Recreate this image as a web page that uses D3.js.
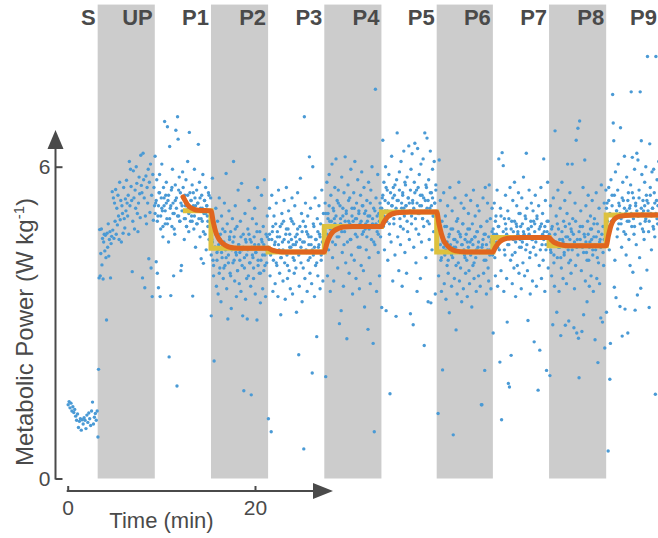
<!DOCTYPE html>
<html>
<head>
<meta charset="utf-8">
<script src="https://cdn.jsdelivr.net/npm/d3@7"></script>
<style>
  html, body { margin: 0; padding: 0; background: #fff; }
  svg { display: block; }
  text { font-family: "Liberation Sans", Arial, Helvetica, sans-serif; }
</style>
</head>
<body>
<svg id="chart" width="658" height="538"></svg>
<script>
// ---------------- DATA ----------------
// Period names and boundaries (minutes)
const periodNames = ["S", "UP", "P1", "P2", "P3", "P4", "P5", "P6", "P7", "P8", "P9"];
const periodBounds = [0, 3.2, 9.3, 15.3, 21.4, 27.4, 33.5, 39.4, 45.4, 51.4, 57.5, 63.5];
const shadedPeriods = ["UP", "P2", "P4", "P6", "P8"];

// Breath-by-breath metabolic power (W/kg), in time order within each period
const powerS = [1.42,1.48,1.36,1.45,1.30,1.38,1.27,1.33,1.20,1.12,1.24,0.98,1.10,1.15,0.93,1.13,1.05,1.17,1.12,0.96,1.22,1.08,1.26,1.15,1.02,1.30,1.47,1.05,1.18,1.25,1.12,1.30];
const powerUP = [0.80,2.10,3.86,4.79,3.90,4.33,4.80,4.11,4.62,3.84,4.55,4.70,4.38,4.68,4.25,3.05,4.72,4.45,4.90,4.28,4.60,4.75,3.86,4.52,4.66,
  5.52,4.78,5.40,4.62,5.30,4.95,5.56,4.70,5.20,4.88,5.45,5.05,4.60,5.70,4.98,5.35,4.55,5.25,5.10,4.72,5.60,5.00,4.82,5.38,5.15,
  5.74,5.30,5.05,5.45,4.70,6.10,5.25,5.95,5.62,5.35,3.98,4.95,5.92,5.40,4.80,5.55,5.20,6.00,5.68,5.10,4.75,5.30,5.80,5.48,5.02,
  6.22,5.64,5.50,3.86,6.26,5.75,5.40,3.67,5.05,5.82,4.90,5.60,5.30,5.95,4.23,5.70,5.12,6.05,4.05,5.45,3.50,5.85,4.97,5.60,5.25];
const powerP1 = [6.20,5.30,4.17,5.75,3.95,5.05,3.67,5.50,5.85,3.50,4.80,5.40,6.05,5.15,4.65,5.60,5.25,6.87,4.90,5.45,5.70,5.00,6.77,5.35,4.55,
  2.34,6.39,5.20,3.52,5.55,4.85,5.95,5.30,3.90,5.10,4.70,5.65,6.70,5.40,1.78,6.96,6.53,5.05,5.80,4.95,5.50,4.00,4.10,5.25,5.90,
  5.60,5.15,4.60,5.45,5.00,5.75,4.85,5.30,6.10,5.20,4.75,6.66,5.50,4.95,5.35,5.05,5.65,3.51,5.25,4.80,5.95,5.40,4.45,5.15,5.55,
  4.90,5.30,6.43,5.00,5.70,4.65,5.20,4.23,5.45,4.95,5.85,4.14,5.10,5.35,4.70,5.60,4.40,5.25,5.05,4.85,5.50,4.60,5.15,4.95,5.40];
const powerP2 = [3.13,4.60,5.78,4.20,3.90,2.26,4.85,4.45,5.20,3.70,4.35,4.95,3.55,4.50,5.40,4.05,4.70,3.40,5.05,4.25,4.80,3.85,4.55,5.30,4.10,
  4.40,5.87,3.65,4.90,3.07,4.30,5.15,4.60,3.95,4.75,3.27,4.45,5.00,4.15,6.10,4.65,3.80,5.25,4.35,3.50,4.85,4.00,5.55,4.50,3.75,
  4.20,4.95,3.60,5.68,4.40,3.13,4.70,1.69,4.05,5.10,3.45,4.55,4.30,3.07,4.80,3.90,5.35,4.15,4.60,3.70,1.61,4.45,5.00,4.25,3.85,
  4.65,5.20,3.55,4.35,4.90,3.05,5.60,4.10,4.50,3.95,4.75,3.38,4.20,5.45,4.55,3.65,4.85,4.00,5.75,4.30,3.50,4.70,4.15,5.05,4.40];
const powerP3 = [1.15,4.60,5.20,3.90,4.35,0.90,5.45,4.75,3.60,4.20,5.05,4.50,3.75,4.90,5.30,4.10,4.65,3.50,5.55,4.40,3.95,4.85,3.15,4.25,5.10,
  4.55,3.80,4.95,5.35,4.15,3.45,4.70,5.60,4.30,3.85,4.80,5.15,4.00,4.45,3.65,5.00,4.60,5.40,3.55,4.25,4.90,3.95,5.25,4.50,4.05,
  3.20,4.70,5.50,4.35,2.38,3.70,4.85,5.78,4.15,5.10,3.40,4.55,4.95,0.57,6.96,3.85,5.30,4.40,4.75,3.60,5.05,4.20,4.65,6.19,3.95,
  5.20,4.50,3.75,2.03,6.00,4.30,4.85,3.50,5.40,4.10,4.60,2.73,5.00,3.90,4.45,5.25,4.70,3.65,4.90,4.20,5.55,4.35,3.80,5.10,4.55];
const powerP4 = [4.60,5.30,1.96,4.85,5.70,3.90,5.10,4.40,5.85,4.95,3.60,5.45,4.70,6.05,4.25,5.20,3.80,5.00,5.60,4.50,6.15,4.80,5.35,4.05,5.55,
  4.65,2.98,5.25,4.90,3.23,5.80,4.35,5.05,3.70,5.50,4.75,6.19,4.15,5.15,2.69,4.55,5.65,4.95,3.95,5.40,4.60,5.95,4.30,5.20,3.55,
  4.85,5.50,4.20,6.10,5.00,3.85,5.30,4.65,5.75,4.45,5.10,3.65,4.90,5.45,4.10,5.90,4.70,5.25,4.00,5.60,3.30,4.80,5.15,4.40,5.35,
  4.95,2.87,5.70,4.25,5.05,3.75,5.55,4.60,6.00,4.90,2.60,5.20,0.90,4.50,7.49,5.40,3.60,4.75,5.85,4.35,5.10,3.90,5.30,4.65,5.00];
const powerP5 = [3.29,5.40,6.51,4.85,5.70,4.40,5.15,6.00,3.23,4.95,5.55,4.20,5.30,5.85,4.70,1.63,5.05,4.55,6.20,5.25,3.80,5.60,4.90,5.45,4.30,
  5.10,3.12,5.75,6.65,4.65,5.35,4.00,5.90,5.00,4.50,6.10,5.20,3.70,5.50,4.80,6.30,5.05,4.35,5.65,5.25,3.95,5.80,4.75,5.40,6.40,
  4.60,5.15,3.17,5.95,4.90,6.25,5.30,2.96,4.45,5.70,6.45,5.00,4.15,5.55,3.60,6.35,5.10,4.70,5.85,5.25,3.85,6.05,4.55,5.45,5.00,
  6.15,4.85,2.56,6.65,5.35,4.25,5.60,6.55,4.95,3.40,5.75,4.60,5.20,6.30,3.38,5.50,4.40,5.95,5.05,4.75,6.10,5.30,3.55,5.65,4.90];
const powerP6 = [5.10,4.40,1.25,3.90,6.13,4.75,5.35,4.20,3.60,4.95,2.09,4.55,5.50,3.75,4.30,5.05,3.45,4.85,4.10,5.25,3.95,4.65,3.19,5.60,4.35,
  4.80,3.70,5.15,4.25,0.84,4.60,3.85,5.40,4.45,2.86,4.95,3.55,5.00,4.15,5.70,3.80,4.70,4.05,5.30,3.40,4.50,4.90,3.65,5.20,4.30,
  4.60,3.95,5.45,4.20,3.50,4.80,5.10,4.00,3.75,4.55,5.35,4.35,3.30,4.90,4.10,5.55,3.85,4.65,5.05,4.25,3.60,4.75,5.25,4.45,3.90,
  5.15,4.35,3.70,4.85,1.42,1.42,4.50,5.40,3.95,4.70,2.08,5.60,4.20,3.55,4.95,5.30,4.05,3.80,5.65,4.40,5.00,3.65,4.60,5.20,4.30];
const powerP7 = [2.80,4.70,5.30,4.25,3.90,5.05,4.55,5.55,3.70,4.85,6.15,4.40,2.24,5.20,4.00,1.13,6.27,4.65,6.02,3.60,5.00,4.30,5.45,4.80,3.85,
  3.01,5.15,1.83,4.50,1.76,5.60,4.20,2.37,4.95,3.75,5.35,4.60,4.05,5.70,4.35,3.50,4.90,5.25,4.10,4.75,5.50,3.95,4.45,5.10,4.85,
  3.65,5.40,4.55,4.15,5.80,4.70,3.90,5.05,4.40,6.26,5.20,4.00,3.04,4.80,5.55,4.25,3.55,4.95,5.30,4.60,3.80,5.15,4.45,2.63,4.90,
  5.45,4.30,3.70,5.00,4.65,1.70,5.25,4.10,2.47,4.85,5.60,3.85,4.50,5.10,4.20,6.15,4.75,3.60,5.35,4.40,2.08,4.95,5.70,4.05,4.60];
const powerP8 = [4.70,1.98,5.25,4.35,3.90,4.85,2.96,5.40,4.15,3.70,6.69,4.55,5.05,3.20,4.25,5.55,4.80,3.60,4.45,5.20,2.75,4.05,5.70,4.60,3.85,
  4.95,4.30,5.35,2.95,4.65,3.75,5.10,6.05,4.40,3.03,4.90,5.50,4.20,3.95,4.75,6.05,5.00,4.50,2.90,3.65,5.30,4.10,6.51,2.80,4.60,
  6.74,2.70,1.94,6.88,4.85,5.15,4.00,2.83,4.45,5.60,3.15,4.70,6.13,3.80,5.25,4.35,3.40,4.95,5.45,4.20,3.70,4.55,5.05,3.90,4.80,
  5.35,4.30,3.60,4.65,5.00,2.67,4.40,5.50,3.85,4.90,2.23,4.15,5.20,3.75,4.60,3.09,5.65,4.50,3.01,4.85,4.10,5.30,2.51,4.70,5.55];
const powerP9 = [3.20,5.30,4.85,0.53,5.60,4.40,1.91,2.60,5.75,4.95,5.45,7.39,6.84,6.50,3.68,4.20,5.90,3.48,5.15,4.65,5.55,6.05,4.90,5.25,3.31,
  6.75,5.00,4.45,2.74,5.70,5.35,4.75,6.20,3.26,5.10,4.30,5.80,4.95,2.80,5.50,4.60,5.20,4.10,5.65,7.44,4.85,6.18,3.97,5.40,4.70,
  5.95,3.24,5.25,4.50,6.26,3.53,6.13,5.05,5.55,4.25,7.44,3.66,6.50,5.85,4.80,5.35,5.15,4.60,5.70,4.95,6.00,5.45,4.01,8.12,5.30,
  4.75,3.29,6.44,5.60,5.10,4.40,5.90,5.20,4.85,5.95,5.50,4.65,1.62,8.12,5.35,5.75,4.90,5.25,6.10,5.05,4.55,5.80,5.40,5.15,5.00];
const powerByPeriod = [powerS, powerUP, powerP1, powerP2, powerP3, powerP4, powerP5, powerP6, powerP7, powerP8, powerP9];

// Further breaths in the same periods (interleaved in time with the ones above)
const extraP1 = [5.10,5.35,4.95,5.25,5.50,5.05,5.20,4.85,5.40,5.15,5.30,4.90,5.45,5.00,5.25,5.60,5.10,4.80,5.35,5.20,5.05,5.55,4.95,5.30,5.15,5.40,5.00,5.25,4.85,5.45,5.10,5.20,5.35,4.95,5.50,5.05,5.25,4.90,5.30,5.15,5.40,5.00,5.20,4.75,5.35,5.10,5.25,4.95,5.45,5.05];
const extraP2 = [4.30,4.55,4.10,4.45,4.70,4.20,4.40,3.95,4.60,4.35,4.50,4.05,4.75,4.25,4.45,4.15,4.65,3.90,4.40,4.55,4.20,4.80,4.30,4.00,4.50,4.35,4.65,4.10,4.45,4.25,4.60,3.85,4.40,4.70,4.15,4.55,4.30,4.05,4.50,4.35,4.75,4.20,4.45,3.95,4.60,4.30,4.50,4.10,4.40,4.65];
const extraP3 = [4.45,4.70,4.30,4.60,4.85,4.40,4.55,4.15,4.75,4.50,4.65,4.25,4.90,4.40,4.60,4.35,4.80,4.10,4.55,4.70,4.45,4.95,4.50,4.20,4.65,4.55,4.80,4.30,4.60,4.45,4.75,4.05,4.55,4.85,4.35,4.70,4.50,4.25,4.65,4.40,4.90,4.45,4.60,4.15,4.75,4.50,4.65,4.30,4.55,4.80];
const extraP4 = [4.85,5.10,4.70,5.00,5.25,4.80,4.95,4.55,5.15,4.90,5.05,4.65,5.30,4.85,5.00,4.75,5.20,4.50,4.95,5.10,4.85,5.35,4.90,4.60,5.05,4.95,5.20,4.70,5.00,4.85,5.15,4.45,4.95,5.25,4.75,5.10,4.90,4.65,5.05,4.80,5.30,4.85,5.00,4.55,5.15,4.90,5.05,4.70,4.95,5.20];
const extraP5 = [5.20,5.45,5.05,5.35,5.60,5.15,5.30,4.90,5.50,5.25,5.40,5.00,5.65,5.20,5.35,5.10,5.55,4.85,5.30,5.45,5.20,5.70,5.25,4.95,5.40,5.30,5.55,5.05,5.35,5.20,5.50,4.80,5.30,5.60,5.10,5.45,5.25,5.00,5.40,5.15,5.65,5.20,5.35,4.90,5.50,5.25,5.40,5.05,5.30,5.55];
const extraP6 = [4.60,4.35,4.75,4.50,4.25,4.65,4.45,4.85,4.40,4.55,4.20,4.70,4.50,4.30,4.80,4.45,4.60,4.10,4.55,4.75,4.35,4.65,4.50,4.90,4.40,4.25,4.70,4.55,4.45,4.80,4.30,4.60,4.50,4.15,4.65,4.40,4.75,4.55,4.35,4.85,4.45,4.60,4.20,4.70,4.50,4.40,4.65,4.30,4.55,4.75];
const extraP7 = [4.80,4.55,4.95,4.70,4.45,4.85,4.65,5.05,4.60,4.75,4.40,4.90,4.70,4.50,5.00,4.65,4.80,4.30,4.75,4.95,4.55,4.85,4.70,5.10,4.60,4.45,4.90,4.75,4.65,5.00,4.50,4.80,4.70,4.35,4.85,4.60,4.95,4.75,4.55,5.05,4.65,4.80,4.40,4.90,4.70,4.60,4.85,4.50,4.75,4.95];
const extraP8 = [4.65,4.40,4.80,4.55,4.30,4.70,4.50,4.90,4.45,4.60,4.25,4.75,4.55,4.35,4.85,4.50,4.65,4.15,4.60,4.80,4.40,4.70,4.55,4.95,4.45,4.30,4.75,4.60,4.50,4.85,4.35,4.65,4.55,4.20,4.70,4.45,4.80,4.60,4.40,4.90,4.50,4.65,4.25,4.75,4.55,4.45,4.70,4.35,4.60,4.80];
const extraP9 = [5.20,4.95,5.35,5.10,4.85,5.25,5.05,5.45,5.00,5.15,4.80,5.30,5.10,4.90,5.40,5.05,5.20,4.70,5.15,5.35,4.95,5.25,5.10,5.50,5.00,4.85,5.30,5.15,5.05,5.40,4.90,5.20,5.10,4.75,5.25,5.00,5.35,5.15,4.95,5.45,5.05,5.20,4.80,5.30,5.10,5.00,5.25,4.90,5.15,5.35];
const extraByPeriod = [[], [], extraP1, extraP2, extraP3, extraP4, extraP5, extraP6, extraP7, extraP8, extraP9];

// Fitted first-order response (orange)
const fitT = [12.31,12.5,12.75,13.0,13.5,14.0,
  15.3,15.55,15.8,16.05,16.3,16.8,17.3,18.3,
  21.4,21.65,21.9,22.15,22.4,22.9,23.4,24.4,
  27.4,27.65,27.9,28.15,28.4,28.9,29.4,30.4,
  33.5,33.75,34.0,34.25,34.5,35.0,35.5,36.5,
  39.4,39.65,39.9,40.15,40.4,40.9,41.4,42.4,
  45.4,45.65,45.9,46.15,46.4,46.9,47.4,48.4,
  51.4,51.65,51.9,52.15,52.4,52.9,53.4,54.4,
  57.5,57.75,58.0,58.25,58.5,59.0,59.5,60.5,
  63.5];
const fitV = [5.42,5.36,5.28,5.23,5.18,5.16,
  5.15,4.93,4.75,4.64,4.57,4.49,4.45,4.43,
  4.43,4.41,4.39,4.38,4.37,4.36,4.36,4.36,
  4.36,4.51,4.63,4.71,4.76,4.81,4.84,4.85,
  4.85,4.93,5.00,5.05,5.08,5.11,5.12,5.13,
  5.13,4.90,4.71,4.58,4.51,4.42,4.38,4.36,
  4.36,4.44,4.51,4.56,4.59,4.62,4.63,4.64,
  4.64,4.59,4.55,4.53,4.51,4.49,4.48,4.48,
  4.48,4.68,4.86,4.96,5.01,5.05,5.06,5.07,
  5.07];

// Steady-state levels (yellow step)
const stepT = [12.31, 15.3, 21.4, 27.4, 33.5, 39.4, 45.4, 51.4, 57.5, 63.5];
const stepV = [5.15, 4.43, 4.36, 4.85, 5.13, 4.36, 4.64, 4.48, 5.07, 5.07];

const xTicks = [0, 20];
const yTicks = [0, 6];
const xLabel = "Time (min)";
const yLabelMain = "Metabolic Power (W kg";
const yLabelSup = "-1";

// ---------------- DRAW ----------------
const svg = d3.select("#chart");
const ink = "#4a4a4a";

const x = d3.scaleLinear().domain([0, 20]).range([67.7, 255]);
const y = d3.scaleLinear().domain([0, 6]).range([478.5, 166.7]);

// shaded bands
const bandTop = y(9.12);
svg.append("g").selectAll("rect")
  .data(periodNames.map((n, i) => ({ n, t0: periodBounds[i], t1: periodBounds[i + 1] }))
    .filter(d => shadedPeriods.includes(d.n)))
  .join("rect")
  .attr("x", d => x(d.t0))
  .attr("width", d => x(d.t1) - x(d.t0))
  .attr("y", bandTop)
  .attr("height", y(0) - bandTop)
  .attr("fill", "#cccccc");

// scatter points
const pts = [];
function addSeries(list, offset) {
  list.forEach((arr, p) => {
    const t0 = periodBounds[p], t1 = periodBounds[p + 1];
    const dt = (t1 - t0) / (arr.length || 1);
    arr.forEach((v, i) => pts.push({ t: t0 + (i + offset) * dt, v }));
  });
}
addSeries(powerByPeriod, 0.5);
addSeries(extraByPeriod, 0.25);
svg.append("g").selectAll("circle")
  .data(pts.filter(d => x(d.t) < 660))
  .join("circle")
  .attr("cx", d => x(d.t))
  .attr("cy", d => y(d.v))
  .attr("r", 1.7)
  .attr("fill", "#4a9ad5");

// yellow step
const stepLine = d3.line().x(d => x(d[0])).y(d => y(d[1])).curve(d3.curveStepAfter);
svg.append("path")
  .attr("d", stepLine(stepT.map((t, i) => [t, stepV[i]])))
  .attr("fill", "none")
  .attr("stroke", "#ddc13e")
  .attr("stroke-width", 5);

// orange fitted curve
const fitLine = d3.line().x(d => x(d[0])).y(d => y(d[1])).curve(d3.curveMonotoneX);
svg.append("path")
  .attr("d", fitLine(fitT.map((t, i) => [t, fitV[i]])))
  .attr("fill", "none")
  .attr("stroke", "#e0651f")
  .attr("stroke-width", 5)
  .attr("stroke-linecap", "round")
  .attr("stroke-linejoin", "round");

// y axis
const axX = 55.5;
const yAxis = svg.append("g").attr("transform", `translate(${axX},0)`)
  .call(d3.axisLeft(y).tickValues(yTicks).tickSize(-7).tickPadding(5).tickFormat(d3.format("d")));
yAxis.select(".domain").remove();
yAxis.selectAll(".tick line").attr("stroke", ink).attr("stroke-width", 2);
yAxis.selectAll(".tick text").attr("fill", ink).attr("font-size", 21)
  .attr("font-family", "'Liberation Sans', Arial, sans-serif");
svg.append("line").attr("x1", axX).attr("x2", axX).attr("y1", y(0) + 1).attr("y2", 146)
  .attr("stroke", ink).attr("stroke-width", 2);
svg.append("path").attr("d", `M${axX},130 L${axX - 8},149 L${axX + 8},149 Z`).attr("fill", ink);

// x axis
const axY = 491;
const xAxis = svg.append("g").attr("transform", `translate(0,${axY})`)
  .call(d3.axisBottom(x).tickValues(xTicks).tickSize(-5).tickPadding(9).tickFormat(d3.format("d")));
xAxis.select(".domain").remove();
xAxis.selectAll(".tick line").attr("stroke", ink).attr("stroke-width", 2);
xAxis.selectAll(".tick text").attr("fill", ink).attr("font-size", 21)
  .attr("font-family", "'Liberation Sans', Arial, sans-serif");
svg.append("line").attr("x1", x(0) - 1).attr("x2", 316).attr("y1", axY).attr("y2", axY)
  .attr("stroke", ink).attr("stroke-width", 2);
svg.append("path").attr("d", `M333,${axY} L313,${axY - 8} L313,${axY + 8} Z`).attr("fill", ink);

// axis labels
svg.append("text").attr("x", 161.5).attr("y", 528).attr("text-anchor", "middle")
  .attr("font-size", 22).attr("fill", ink).text(xLabel);
const yl = svg.append("text").attr("transform", "translate(33,332) rotate(-90)")
  .attr("text-anchor", "middle").attr("font-size", 24).attr("fill", ink);
yl.append("tspan").text(yLabelMain);
yl.append("tspan").attr("dy", -9).attr("font-size", 15).text(yLabelSup);
yl.append("tspan").attr("dy", 9).text(")");

// period labels
svg.append("g").selectAll("text")
  .data(periodNames.map((n, i) => ({ n, t1: periodBounds[i + 1] })))
  .join("text")
  .attr("x", d => Math.min(x(d.t1) - 2, 657))
  .attr("y", 25)
  .attr("text-anchor", "end")
  .attr("font-size", 22)
  .attr("font-weight", "bold")
  .attr("fill", ink)
  .text(d => d.n);
</script>
</body>
</html>
